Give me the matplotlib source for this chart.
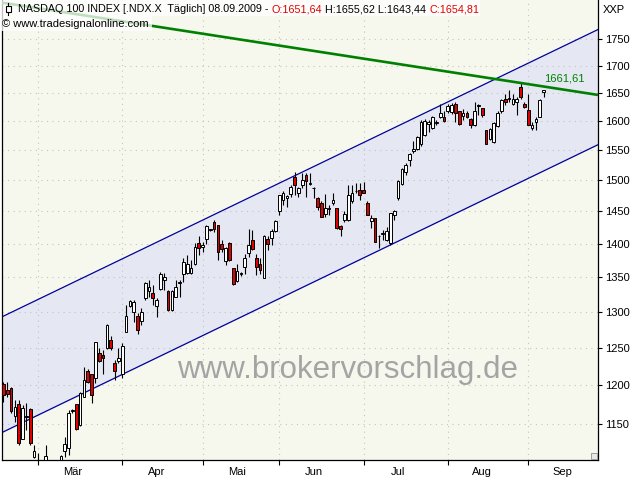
import numpy as np
import pandas as pd
import matplotlib
matplotlib.use("Agg")
import matplotlib.pyplot as plt
from matplotlib.ticker import FixedLocator, NullLocator, NullFormatter, FixedFormatter
from matplotlib.patches import Rectangle
from matplotlib.lines import Line2D

plt.rcParams["font.family"] = ["Liberation Sans", "DejaVu Sans"]

# trading days 17.02.2009 - 08.09.2009 (US holidays left out)
holidays = pd.to_datetime(["2009-04-10", "2009-05-25", "2009-07-03", "2009-09-07"])
days = pd.bdate_range("2009-02-17", "2009-09-08")
days = days[~days.isin(holidays)]

opens = [1201, 1193, 1196, 1160, 1176, 1132, 1160, 1169, 1110,
         1104, 1095, 1090, 1100, 1070, 1068, 1095, 1117, 1120, 1166,
         1176, 1149, 1185, 1218, 1215, 1209, 1243, 1240, 1249, 1260,
         1229, 1232, 1215, 1272, 1308, 1299, 1294, 1287, 1319, 1330,
         1327, 1308, 1332, 1346, 1329, 1302, 1321, 1341, 1355, 1356,
         1356, 1370, 1401, 1395, 1407, 1421, 1434, 1429, 1400, 1374,
         1401, 1363, 1344, 1354, 1365, 1386, 1406, 1379, 1370, 1349,
         1407, 1408, 1420, 1450, 1469, 1472, 1478, 1505, 1480, 1492,
         1509, 1494, 1488, 1472, 1464, 1446, 1454, 1463, 1455, 1427,
         1436, 1437, 1466, 1482, 1484, 1485, 1464, 1435, 1439, 1411,
         1415, 1405, 1401, 1444, 1471, 1494, 1514, 1533, 1548, 1552,
         1560, 1576, 1595, 1588, 1597, 1607, 1607, 1617, 1616, 1631,
         1617, 1609, 1614, 1603, 1593, 1627, 1623, 1584, 1570, 1564,
         1592, 1617, 1640, 1639, 1631, 1634, 1661, 1630, 1620, 1588,
         1598, 1608, 1651.64]
highs = [1204, 1204, 1198, 1181, 1181, 1174, 1177, 1170, 1124,
         1114, 1104, 1124, 1104, 1090, 1080, 1112, 1134, 1168, 1169,
         1176, 1191, 1224, 1221, 1215, 1258, 1249, 1247, 1282, 1266,
         1233, 1249, 1256, 1309, 1317, 1316, 1298, 1305, 1343, 1345,
         1338, 1319, 1358, 1356, 1331, 1331, 1346, 1346, 1378, 1383,
         1376, 1401, 1411, 1403, 1429, 1423, 1436, 1429, 1405, 1395,
         1402, 1364, 1369, 1358, 1385, 1422, 1421, 1385, 1378, 1413,
         1411, 1423, 1437, 1477, 1482, 1476, 1492, 1514, 1490, 1512,
         1512, 1512, 1490, 1473, 1466, 1478, 1460, 1479, 1456, 1429,
         1451, 1492, 1492, 1495, 1495, 1498, 1466, 1444, 1440, 1413,
         1421, 1426, 1448, 1453, 1501, 1520, 1528, 1546, 1565, 1575,
         1602, 1603, 1602, 1609, 1602, 1631, 1617, 1631, 1632, 1633,
         1618, 1621, 1617, 1605, 1633, 1631, 1623, 1585, 1588, 1598,
         1617, 1640, 1649, 1655, 1649, 1643, 1668, 1634, 1648, 1598,
         1608, 1639, 1655.62]
lows = [1178, 1185, 1164, 1153, 1124, 1132, 1143, 1124, 1108,
        1085, 1070, 1085, 1065, 1045, 1043, 1090, 1110, 1112, 1164,
        1143, 1147, 1185, 1202, 1177, 1202, 1231, 1215, 1248, 1247,
        1207, 1229, 1209, 1272, 1306, 1286, 1269, 1281, 1317, 1321,
        1309, 1293, 1331, 1331, 1301, 1301, 1321, 1321, 1343, 1355,
        1355, 1368, 1383, 1388, 1400, 1420, 1418, 1375, 1388, 1368,
        1374, 1339, 1343, 1352, 1355, 1380, 1390, 1353, 1355, 1349,
        1391, 1398, 1418, 1444, 1460, 1457, 1473, 1476, 1473, 1487,
        1473, 1492, 1471, 1452, 1441, 1442, 1444, 1460, 1423, 1412,
        1434, 1435, 1463, 1479, 1468, 1479, 1444, 1424, 1402, 1393,
        1405, 1404, 1398, 1437, 1468, 1492, 1509, 1523, 1546, 1551,
        1557, 1575, 1582, 1586, 1593, 1606, 1599, 1614, 1613, 1599,
        1593, 1602, 1605, 1588, 1592, 1611, 1608, 1560, 1568, 1563,
        1590, 1615, 1629, 1634, 1629, 1611, 1640, 1623, 1593, 1585,
        1585, 1607, 1643.44]
closes = [1187, 1188, 1166, 1171, 1126, 1170, 1159, 1126, 1117,
          1090, 1075, 1111, 1068, 1068, 1050, 1111, 1125, 1164, 1168,
          1144, 1190, 1206, 1204, 1187, 1258, 1232, 1236, 1281, 1249,
          1219, 1236, 1252, 1294, 1315, 1313, 1274, 1300, 1341, 1335,
          1320, 1316, 1354, 1350, 1302, 1329, 1335, 1343, 1373, 1370,
          1363, 1395, 1393, 1398, 1427, 1422, 1422, 1388, 1392, 1394,
          1375, 1340, 1359, 1356, 1378, 1398, 1392, 1365, 1361, 1412,
          1400, 1420, 1435, 1476, 1479, 1475, 1490, 1492, 1487, 1501,
          1499, 1496, 1487, 1457, 1442, 1455, 1455, 1469, 1424, 1423,
          1446, 1476, 1480, 1483, 1476, 1480, 1444, 1440, 1403, 1412,
          1416, 1420, 1447, 1451, 1499, 1518, 1525, 1544, 1552, 1572,
          1599, 1601, 1599, 1607, 1598, 1615, 1601, 1627, 1628, 1614,
          1595, 1614, 1608, 1593, 1618, 1629, 1611, 1561, 1586, 1597,
          1615, 1637, 1633, 1641, 1640, 1640, 1643, 1625, 1594, 1593,
          1604, 1637, 1654.81]

# trend channel (bar index, price) and resistance line
chan_x = [-1, 156]
chan_upper = [1291, 1771]
chan_lower = [1138, 1562]
res_x = [-1, 156]
res_y = [1821.5, 1645.6]
res_label = "1661,61"

price_levels = list(range(1150, 1751, 50))
month_names = ["Mär", "Apr", "Mai", "Jun", "Jul", "Aug", "Sep"]

x = np.arange(len(days))
o = np.array(opens); h = np.array(highs); l = np.array(lows); c = np.array(closes)

fig = plt.figure(figsize=(6.4, 4.8), dpi=100)
ax = fig.add_axes([2 / 640, 20 / 480, 596 / 640, 460 / 480])
ax.set_facecolor("#f6f8ee")
ax.set_yscale("log")
ax.set_xlim(-0.37, 155.2)
ax.set_ylim(1105.8, 1826)

ax.fill_between(chan_x, chan_lower, chan_upper, color="#e5e7f2", lw=0, zorder=0.2)
ax.plot(chan_x, chan_upper, color="#00009c", lw=0.9, zorder=2)
ax.plot(chan_x, chan_lower, color="#00009c", lw=0.9, zorder=2)

# candles
ax.vlines(x, l, h, color="black", lw=0.8, zorder=3)
up = c >= o
body_lo = np.minimum(o, c)
body_hi = np.maximum(o, c)
ax.bar(x, body_hi - body_lo, bottom=body_lo, width=0.7,
       color=np.where(up, "white", "#e00000"), edgecolor="black", lw=0.7, zorder=4)

ax.plot(res_x, res_y, color="#008000", lw=1.9, zorder=5)
res_last = np.exp(np.interp(x[-1], res_x, np.log(res_y)))
ax.annotate(res_label, (x[-1], res_last), xytext=(0, 2), textcoords="offset points",
            color="#008000", fontsize=8, va="bottom", ha="left", zorder=6)

# axes, ticks, grid
month_start = [i for i in range(1, len(days)) if days[i].month != days[i - 1].month]
ax.xaxis.set_major_locator(FixedLocator(month_start))
ax.xaxis.set_major_formatter(NullFormatter())
ax.xaxis.set_minor_locator(FixedLocator([m + 9 for m in month_start]))
ax.xaxis.set_minor_formatter(FixedFormatter(month_names))
ax.tick_params(axis="x", which="major", direction="out", length=3.5, width=0.8)
ax.tick_params(axis="x", which="minor", length=0, pad=5, labelsize=8)

ax.yaxis.tick_right()
ax.yaxis.set_major_locator(FixedLocator(price_levels))
ax.yaxis.set_major_formatter(FixedFormatter([str(v) for v in price_levels]))
ax.yaxis.set_minor_locator(NullLocator())
ax.tick_params(axis="y", which="major", direction="out", length=3, width=0.8,
               pad=2, labelsize=8)

ax.grid(True, which="major", color="#c4c4c4", lw=0.8, ls=(0, (1, 4)))
for s in ax.spines.values():
    s.set_linewidth(0.9)
ax.spines["top"].set_visible(False)

ax.text(0.58, 0.196, "www.brokervorschlag.de", transform=ax.transAxes,
        fontsize=22.5, color="#a4a4a4", ha="center", va="center", zorder=7)

# header
def fx(px):
    return px / 640

def fy(py):
    return 1 - py / 480

fig.add_artist(Rectangle((0, fy(16)), fx(480), 16 / 480, transform=fig.transFigure,
                         facecolor="white", alpha=0.75, lw=0, zorder=8))
fig.add_artist(Rectangle((0, fy(31)), fx(152), 15 / 480, transform=fig.transFigure,
                         facecolor="white", alpha=0.75, lw=0, zorder=8))
fig.add_artist(Line2D([fx(8), fx(8)], [fy(3), fy(15)], transform=fig.transFigure,
                      color="black", lw=0.8, zorder=9))
fig.add_artist(Rectangle((fx(5.5), fy(12)), fx(5), 6 / 480, transform=fig.transFigure,
                         facecolor="white", edgecolor="black", lw=0.8, zorder=10))
# little resize mark in the bottom right corner of the plot
fig.add_artist(Rectangle((fx(591), fy(459)), fx(6), 6 / 480, transform=fig.transFigure,
                         facecolor="#e8e8e8", edgecolor="#909090", lw=0.6, zorder=10))

header = [("NASDAQ 100 INDEX [.NDX.X  Täglich] 08.09.2009 - ", "black"),
          ("O:1651,64", "#e00000"),
          (" H:1655,62 L:1643,44 ", "black"),
          ("C:1654,81", "#e00000")]
r = fig.canvas.get_renderer()
pos = 18
for s, col in header:
    t = fig.text(fx(pos), fy(9), s, color=col, fontsize=7.75, va="center", ha="left", zorder=11)
    pos += t.get_window_extent(r).width
fig.text(fx(2), fy(24), "© www.tradesignalonline.com", fontsize=8, va="center",
         ha="left", zorder=11)
fig.text(fx(603), fy(10), "XXP", fontsize=8, va="center", ha="left")

fig.savefig("out.png", dpi=100)
